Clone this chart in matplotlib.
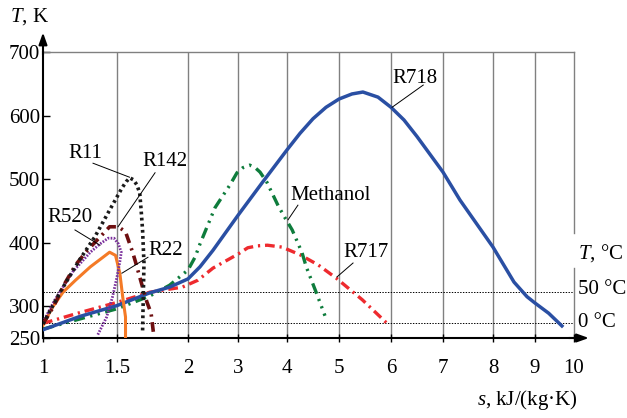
import numpy as np
import matplotlib
matplotlib.use('Agg')
import matplotlib.pyplot as plt

plt.rcParams['font.family'] = ['Liberation Serif', 'DejaVu Serif']
plt.rcParams['mathtext.fontset'] = 'custom'
plt.rcParams['mathtext.rm'] = 'Liberation Serif'
plt.rcParams['mathtext.it'] = 'Liberation Serif:italic'
plt.rcParams['lines.scale_dashes'] = False

# ---- axis ticks ----
s_ticks = [1, 1.5, 2, 3, 4, 5, 6, 7, 8, 9, 10]
s_tick_labels = ['1', '1.5', '2', '3', '4', '5', '6', '7', '8', '9', '10']
T_ticks = [250, 300, 400, 500, 600, 700]

# ---- saturation curves, s in kJ/(kg K), T in K ----
r718_s = [1.0, 1.25, 1.5, 1.73, 1.87, 2.0, 2.24, 2.5, 3.0, 3.5, 4.0, 4.25, 4.5, 4.75, 5.0,
          5.25, 5.46, 5.75, 6.0, 6.25, 6.5, 7.0, 7.34, 8.0, 8.5, 8.81, 9.0, 9.35, 9.69]
r718_T = [263, 284, 301, 321, 330, 343, 362, 388, 443, 495, 546, 572, 595, 613, 626,
          634, 637, 629, 613, 593, 567, 511, 467, 393, 338, 315, 305, 289, 269]

r717_s = [1.0, 1.25, 1.5, 1.73, 1.96, 2.2, 2.5, 2.75, 3.0, 3.2, 3.4, 3.6, 3.9, 4.25,
          4.6, 4.95, 5.45, 5.95]
r717_T = [273, 290, 306, 322, 330, 341, 360, 371, 382, 392, 395, 396, 393, 381,
          365, 344, 310, 271]

meth_s = [1.0, 1.5, 1.73, 1.87, 2.0, 2.14, 2.24, 2.34, 2.54, 2.84, 2.98, 3.1, 3.24,
          3.35, 3.45, 3.59, 3.82, 3.96, 4.1, 4.29, 4.37, 4.56, 4.73]
meth_T = [264, 296, 316, 333, 357, 377, 398, 417, 455, 491, 510, 518, 522,
          518, 511, 495, 458, 439, 420, 384, 362, 322, 285]

r11_s = [1.0, 1.115, 1.25, 1.35, 1.44, 1.535, 1.565, 1.59, 1.615, 1.64, 1.66, 1.67,
         1.68, 1.69, 1.68]
r11_T = [272, 322, 374, 409, 447, 486, 496, 502, 499, 491, 478, 451, 420, 368, 259]

r142_s = [1.0, 1.07, 1.15, 1.22, 1.30, 1.39, 1.45, 1.51, 1.56, 1.61, 1.63, 1.68, 1.71,
          1.74, 1.76]
r142_T = [272, 299, 337, 365, 388, 410, 425, 425, 417, 385, 370, 330, 307, 289, 252]

r520_s = [1.0, 1.08, 1.20, 1.32, 1.385, 1.44, 1.48, 1.51, 1.53, 1.52, 1.50, 1.47, 1.43, 1.37]
r520_T = [275, 310, 354, 385, 398, 407, 407, 398, 385, 370, 346, 315, 283, 255]

r22_s = [1.0, 1.06, 1.135, 1.22, 1.32, 1.405, 1.45, 1.49, 1.52, 1.54, 1.56, 1.56]
r22_T = [270, 297, 322, 341, 362, 377, 385, 380, 352, 315, 283, 252]

# ---- stretched s axis (1..2 drawn wider than the rest) ----
knot_s = np.array(s_ticks, float)
knot_p = np.array([0, 74, 145, 195, 244, 296, 348, 400, 450, 492, 531], float)


def s_fwd(s):
    s = np.asarray(s, float)
    p = np.interp(s, knot_s, knot_p)
    p = np.where(s < 1, (s - 1) * 148, p)
    p = np.where(s > 10, 531 + (s - 10) * 39, p)
    return p


def s_inv(p):
    p = np.asarray(p, float)
    s = np.interp(p, knot_p, knot_s)
    s = np.where(p < 0, 1 + p / 148, s)
    s = np.where(p > 531, 10 + (p - 531) / 39, s)
    return s


fig = plt.figure(figsize=(6.27, 4.18), dpi=100)
ax = fig.add_axes([43 / 627, 80 / 418, 531 / 627, 286 / 418])
ax.set_xscale('function', functions=(s_fwd, s_inv))
ax.set_xlim(1, 10)
ax.set_ylim(250, 700)

fs = 15
ax.set_xticks(s_ticks)
ax.set_xticklabels(s_tick_labels, fontsize=fs)
ax.set_yticks(T_ticks)
ax.set_yticklabels([str(t) for t in T_ticks], fontsize=fs)
ax.minorticks_off()
ax.tick_params(axis='x', direction='inout', length=6, width=1, pad=12)
ax.tick_params(axis='y', direction='in', length=5, width=1, pad=2)

for s in s_ticks[1:-1]:
    ax.axvline(s, color='#808080', lw=1.0, zorder=1)

ax.spines['left'].set_linewidth(1.5)
ax.spines['bottom'].set_linewidth(1.5)
ax.spines['top'].set_color('#808080')
ax.spines['top'].set_linewidth(1.0)
ax.spines['right'].set_visible(False)
ax.plot([10, 10], [700, 415], color='#808080', lw=1.0, clip_on=False, zorder=1)
ax.plot([10, 10], [360, 250], color='#808080', lw=1.0, clip_on=False, zorder=1)

ax.axhline(323, color='k', lw=0.7, ls=(0, (1, 1)), zorder=1)
ax.axhline(273, color='k', lw=0.7, ls=(0, (1, 1)), zorder=1)

# axis arrows
ax.annotate('', xy=(0, 1.068), xytext=(0, 0.99), xycoords='axes fraction',
            arrowprops=dict(arrowstyle='-|>,head_length=0.7,head_width=0.25',
                            color='k', lw=1.5, shrinkA=0, shrinkB=0))
ax.annotate('', xy=(1.028, 0), xytext=(0.99, 0), xycoords='axes fraction',
            arrowprops=dict(arrowstyle='-|>,head_length=0.7,head_width=0.25',
                            color='k', lw=1.5, shrinkA=0, shrinkB=0))

# curves
ax.plot(r717_s, r717_T, color='#ee2a2e', lw=2.4, ls=(0, (7, 3.5, 1.6, 3.5)),
        dash_capstyle='butt', zorder=3)
ax.plot(meth_s, meth_T, color='#0e7c3c', lw=2.4, ls=(0, (8, 4, 1.6, 4, 1.6, 4)),
        dash_capstyle='butt', zorder=4)
ax.plot(r718_s, r718_T, color='#2a4fa3', lw=2.5, zorder=5)
ax.plot(r22_s, r22_T, color='#f47a26', lw=2.2, zorder=6)
ax.plot(r520_s, r520_T, color='#7a2f9c', lw=2.0, ls=(0, (1.2, 1.0)),
        dash_capstyle='butt', zorder=7)
ax.plot(r142_s, r142_T, color='#6e0f10', lw=2.6, ls=(0, (7, 4, 1.6, 4)),
        dash_capstyle='butt', zorder=8)
ax.plot(r11_s, r11_T, color='#1a1a1a', lw=2.6, ls=(0, (2, 2.4)),
        dash_capstyle='butt', zorder=9)

# labels with leader lines: (text, text pos, leader start, leader end)
labels = [
    ('R11', (1.284, 541), (1.338, 525), (1.588, 503)),
    ('R142', (1.838, 528), (1.768, 510), (1.507, 425)),
    ('R520', (1.182, 440), (1.216, 420), (1.385, 396)),
    ('R22', (1.845, 388), (1.718, 377), (1.535, 352)),
    ('Methanol', (4.846, 475), (4.21, 459), (4.02, 436)),
    ('R717', (5.52, 385), (5.27, 368), (4.96, 346)),
    ('R718', (6.46, 659), (6.62, 648), (6.02, 613)),
]
for txt, tp, a, b in labels:
    ax.text(tp[0], tp[1], txt, fontsize=fs, ha='center', va='center', zorder=10)
    ax.plot([a[0], b[0]], [a[1], b[1]], color='k', lw=0.7, zorder=10)

# Celsius marks on the right
ax.text(1.007, 383, '$T$, °C', transform=ax.get_yaxis_transform(), fontsize=fs,
        ha='left', va='center')
ax.text(1.007, 326, '50 °C', transform=ax.get_yaxis_transform(), fontsize=fs,
        ha='left', va='center')
ax.text(1.007, 274, '0 °C', transform=ax.get_yaxis_transform(), fontsize=fs,
        ha='left', va='center')

fig.text(10 / 627, 1 - 17 / 418, '$T$, K', fontsize=fs, ha='left', va='center')
fig.text(578 / 627, 1 - 400 / 418, '$s$, kJ/(kg·K)', fontsize=fs, ha='right', va='center')

fig.savefig('out.png', dpi=100)
